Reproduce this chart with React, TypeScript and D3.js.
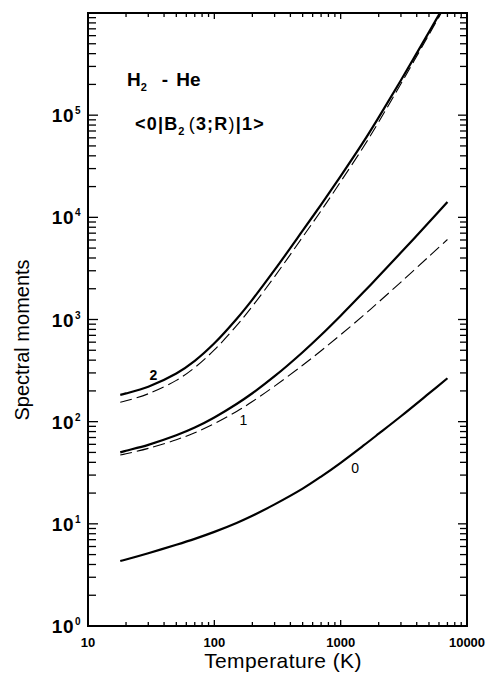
import React, { useEffect, useRef } from 'react';
import * as d3 from 'd3';

// temperatures (K) at which the moments are read
const temps = [18, 20, 30, 50, 70, 100, 150, 200, 300, 500, 700, 1000, 1500, 2000, 3000, 5000, 7000];
// solid: full calculation, dashed: approximation
const moment0 = [4.33, 4.48, 5.16, 6.24, 7.13, 8.34, 10.2, 12.0, 15.5, 22.1, 29.0, 39.6, 57.8, 76.2, 113, 189, 266];
const moment1 = [50.1, 51.9, 59.3, 73.5, 87.5, 109.9, 148.9, 189.7, 278.6, 478.6, 704.7, 1089, 1824, 2649, 4519, 8954, 14160];
const moment1Dashed = [47.1, 48.5, 54.8, 66.5, 78.0, 95.5, 125.9, 157.4, 222.8, 356.5, 494.3, 709.6, 1086, 1483, 2323, 4140, 6067];
const moment2 = [183, 189, 220, 296, 394, 585, 1012, 1567, 3055, 7396, 13340, 25350, 53830, 95280, 219800, 650100, 1343000];
const moment2Dashed = [155, 160, 187.5, 253.5, 338.8, 503.5, 871, 1349, 2630, 6412, 11610, 22340, 47970, 85900, 202800, 613800, 1282000];

const xTickLabels = ['10', '100', '1000', '10000'];
const yExponents = ['0', '1', '2', '3', '4', '5'];
const curveLabels = ['0', '1', '2'];

const W = 487;
const H = 674;
const FONT = '"Liberation Sans", Arial, Helvetica, sans-serif';

export default function App() {
  const ref = useRef<SVGSVGElement>(null);

  useEffect(() => {
    const svg = d3.select(ref.current);
    svg.selectAll('*').remove();

    const x = d3.scaleLog().domain([10, 10000]).range([88, 467]);
    const y = d3.scaleLog().domain([1, 1e6]).range([626, 13]);
    const [x0, x1] = x.range();
    const [y0, y1] = y.range();

    svg.append('defs').append('clipPath').attr('id', 'plot')
      .append('rect').attr('x', x0).attr('y', y1).attr('width', x1 - x0).attr('height', y0 - y1);

    const isMajor = (v: number) => Math.abs(Math.log10(v) - Math.round(Math.log10(v))) < 1e-9;

// ticks on all four sides, pointing inside
    const tk = svg.append('g').attr('stroke', '#000').attr('stroke-width', 1.3);
    x.ticks().forEach(v => {
      const px = x(v);
      const big = isMajor(v);
      tk.append('line').attr('x1', px).attr('x2', px).attr('y1', y0).attr('y2', y0 - (big ? 6 : 4));
      tk.append('line').attr('x1', px).attr('x2', px).attr('y1', y1).attr('y2', y1 + (big ? 6 : 4));
    });
    y.ticks().forEach(v => {
      const py = y(v);
      const big = isMajor(v);
      tk.append('line').attr('y1', py).attr('y2', py).attr('x1', x0).attr('x2', x0 + (big ? 10 : 8));
      tk.append('line').attr('y1', py).attr('y2', py).attr('x1', x1).attr('x2', x1 - (big ? 9 : 7));
    });

// frame
    svg.append('rect')
      .attr('x', x0).attr('y', y1).attr('width', x1 - x0).attr('height', y0 - y1)
      .attr('fill', 'none').attr('stroke', '#000').attr('stroke-width', 2);

// x tick labels
    xTickLabels.forEach(t => {
      svg.append('text')
        .attr('x', x(+t)).attr('y', 647)
        .attr('text-anchor', 'middle')
        .style('font-family', FONT).style('font-weight', 'bold').style('font-size', '13px')
        .text(t);
    });

// y tick labels 10^n
    yExponents.forEach(e => {
      svg.append('text')
        .attr('x', 74).attr('y', y(Math.pow(10, +e)) + 7)
        .style('font-family', FONT).style('font-weight', 'bold').style('font-size', '19px')
        .attr('text-anchor', 'end')
        .attr('letter-spacing', 0.5)
        .text('10');
      svg.append('text')
        .attr('x', 75).attr('y', y(Math.pow(10, +e)) - 1)
        .style('font-family', FONT).style('font-weight', 'bold').style('font-size', '10px')
        .text(e);
    });

// axis titles
    svg.append('text')
      .attr('transform', 'translate(29,340) rotate(-90)')
      .attr('text-anchor', 'middle')
      .style('font-family', FONT).style('font-size', '20px')
      .text('Spectral moments');
    svg.append('text')
      .attr('x', 283).attr('y', 668)
      .attr('text-anchor', 'middle')
      .attr('letter-spacing', 0.4)
      .style('font-family', FONT).style('font-size', '21px')
      .text('Temperature (K)');

// curves
    const line = d3.line<number>()
      .x((d, i) => x(temps[i]))
      .y(d => y(d))
      .curve(d3.curveCatmullRom.alpha(0.5));

    const g = svg.append('g').attr('clip-path', 'url(#plot)').attr('fill', 'none').attr('stroke', '#000');
    [moment0, moment1, moment2].forEach(s => {
      g.append('path').attr('d', line(s)).attr('stroke-width', 2.2);
    });
    [moment1Dashed, moment2Dashed].forEach(s => {
      g.append('path').attr('d', line(s)).attr('stroke-width', 1.1).attr('stroke-dasharray', '12,5');
    });

// curve labels
    const labelPos = [[1300, 1.5], [170, 1.965], [33, 2.41]];
    curveLabels.forEach((c, i) => {
      svg.append('text')
        .attr('x', x(labelPos[i][0])).attr('y', y(Math.pow(10, labelPos[i][1])))
        .attr('text-anchor', 'middle')
        .style('font-family', FONT).style('font-size', '14px').style('font-weight', i === 2 ? 'bold' : 'normal')
        .text(c);
    });

// title block
    const t1 = svg.append('text').attr('x', 127).attr('y', 86)
      .style('font-family', FONT).style('font-weight', 'bold').style('font-size', '19px');
    t1.append('tspan').text('H');
    t1.append('tspan').attr('dy', 5).style('font-size', '11px').text('2');
    t1.append('tspan').attr('dy', -5).attr('dx', 15).text('-');
    t1.append('tspan').attr('dx', 8).text('He');

    const t2 = svg.append('text').attr('x', 135).attr('y', 130)
      .style('font-family', FONT).style('font-weight', 'bold').style('font-size', '18px')
      .attr('letter-spacing', 1.2);
    t2.append('tspan').text('<0|B');
    t2.append('tspan').attr('dy', 5).style('font-size', '11px').text('2');
    t2.append('tspan').attr('dy', -5).attr('dx', 3).style('font-weight', 'normal').text('(');
    t2.append('tspan').text('3;R');
    t2.append('tspan').style('font-weight', 'normal').text(')');
    t2.append('tspan').text('|1>');
  }, []);

  return (
    <svg
      ref={ref}
      width={W}
      height={H}
      style={{ position: 'absolute', left: 0, top: 0, background: '#fff' }}
    />
  );
}
